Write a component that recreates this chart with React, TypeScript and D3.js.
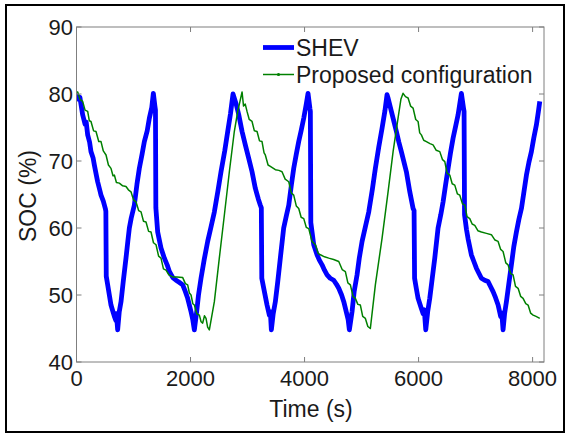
import React from "react";
import * as d3 from "d3";

const shevT = [0,40,60,108,150,170,196,230,254,290,313,350,371,410,430,470,506,515,522,547,580,605,640,664,690,700,722,750,781,820,868,900,927,960,1014,1060,1102,1150,1190,1240,1278,1320,1348,1375,1385,1392,1424,1482,1541,1590,1629,1690,1746,1800,1863,1910,1950,2009,2040,2067,2108,2140,2184,2240,2301,2360,2418,2480,2535,2600,2652,2700,2745,
2800,2846,2904,2961,3021,3079,3137,3190,3225,3242,3250,3284,3342,3383,3400,3418,3450,3488,3530,3575,3634,3680,3723,3770,3810,3855,3898,3940,3986,4030,4061,4095,4102,4110,4161,4219,4260,4307,4350,4395,4450,4512,4560,4600,4650,4688,4746,4765,4786,4833,4870,4921,4960,5009,5070,5126,5190,5242,5300,5360,5410,5447,
5465,5523,5570,5611,5655,5698,5745,5786,5846,5904,5921,5930,5960,5991,6049,6080,6100,6126,6160,6196,6240,6284,6342,6390,6430,6475,6518,6560,6605,6650,6693,6751,6790,6798,6806,6840,6868,6926,6970,7014,7060,7102,7160,7219,7260,7307,7350,7395,7440,7460,7482,7510,7541,7580,7628,7670,7716,7760,7804,7850,7892,7935,7979,8020,8067,8100,8126];
const shevSOC = [80,79.2,79.5,76.9,75.5,75.8,73.9,72.8,71.4,70.5,69.4,67.8,66.9,65.6,64.9,64,62.9,62.5,52.8,51.5,49.8,48.5,47.5,46.8,46.2,47.2,44.8,47.5,49,52,55.5,58,60,61.5,63.4,66.5,68.9,71,72.9,74.5,76.4,78,80.1,78.2,77.6,63,59.4,57,55.5,54.5,53.5,52.6,52.2,51.9,51.5,50.5,49.5,47.5,46.3,44.8,47.5,50,52.5,55.3,58,60.2,62.4,65.5,68.4,71.5,74.4,77,80,
78.5,76.9,74.4,72.4,70.4,68.4,65.9,64.3,63.4,63,52.5,51,48.5,47,47.5,44.8,47.2,49,52,55.5,60,61.8,63.4,66.5,68.9,71,72.9,74.5,76.4,78.5,80.1,77.8,77.4,60.8,57.5,56,55.2,54.5,53.7,53,52.5,52.2,51.6,51,50,49,47,46.3,44.8,47.5,50.5,53,55.5,58,60.3,62.4,65.8,68.9,72,74.9,77.5,79.9,
79.4,77.4,75.8,74.4,72.8,71.4,69.8,68.4,65.4,62.9,62.6,52.5,51,49.5,48,47.2,47.8,44.8,47.5,49.5,52.5,55.5,60,62,63.9,66.5,68.9,71.2,73.4,75.2,76.9,80.1,77.8,77.4,62,59.8,58.4,56,55,54,53.2,52.5,52.2,52,51.3,50.5,49.6,48.5,46.8,47.3,44.8,47.3,49,51.5,54.5,57.2,59.4,61.3,62.9,65.5,67.9,69.8,71.4,73.4,75.4,77.3,78.9];

const propT = [0,21,60,108,150,196,225,254,300,342,390,430,470,518,560,605,640,664,700,751,810,868,910,956,1000,1044,1090,1132,1175,1219,1265,1307,1350,1395,1440,1482,1525,1570,1620,1687,1760,1863,1910,1950,1980,2009,2040,2067,2110,2155,2185,2213,2245,2272,2300,2330,2418,2505,2593,2681,2768,2830,2870,2904,2930,2960,2991,3030,3079,3120,3167,3210,3254,3290,3312,3360,3400,3488,3550,3605,3660,3723,3770,3810,3855,3898,3940,3986,4030,4074,4130,4190,4240,4277,4350,4425,4510,4600,4660,4716,4760,4804,4850,4891,4935,4979,5020,5067,5110,5154,5242,5360,5465,5553,5640,5690,5728,5770,5816,5860,5904,5950,5991,6020,6049,6090,6137,6200,6254,6310,6372,6420,6460,6500,6547,6590,6635,6680,6723,6770,6811,6850,6898,6940,6986,7040,7102,7190,7277,7340,7395,7440,7482,7530,7570,7615,7658,7700,7746,7790,7833,7880,7921,7965,8009,8060,8126];
const propSOC = [80.3,80.3,79.2,78.9,77.6,77.4,76,75.9,74.5,74.4,72.9,72.9,71.5,70.9,69.4,68.9,67.8,67.9,66.8,66.7,66.3,66.2,65.7,65.4,64.2,63.9,62.6,62.4,61,60.9,59.5,59.4,57.8,57.5,55.8,55.5,53.9,53.7,53,52.7,52.7,52.6,51.7,51.5,50.3,50,48.7,48.5,47.2,47,46,45.8,46.9,46.5,45.2,44.8,49,55.5,61.9,68.4,74.4,77.5,79,80.3,78.2,78.5,77.4,76.2,75.9,74.5,74.4,73,72.9,71.2,70.9,69.4,69.2,68.7,68.6,68.4,67.3,66.9,65.2,64.9,63.3,62.9,61.6,61.4,60.1,59.9,58,57.5,56.2,56,55.7,55.5,55.3,55,53.8,53.5,51.8,51.5,49.8,49.5,48.6,48.5,46.8,46.5,45.3,45,51.5,58.5,65.4,71.4,76.4,79.2,80.1,79.6,79.4,78.2,77.9,76.2,75.9,74.2,73.9,73.1,72.9,72.6,72.4,71.6,71.4,70.2,69.9,68.2,67.9,66.6,66.4,65.1,64.9,63.6,63.4,61.7,61.4,60.6,60.4,59.6,59.4,59.2,59,58.2,58,56.8,56.5,54.8,54.5,53.2,53,51.3,51,49.8,49.5,48.7,48.5,47.3,47,46.8,46.5];

const xTicks = [0, 2000, 4000, 6000, 8000];
const yTicks = [40, 50, 60, 70, 80, 90];
const seriesNames = ["SHEV", "Proposed configuration"];

const W = 566, H = 434;
const L = 76.5, R = 544, T = 27, B = 362;
const FONT = "'Liberation Sans', Arial, sans-serif";

export default function App() {
  const x = d3.scaleLinear().domain([0, 8200]).range([L, R]);
  const y = d3.scaleLinear().domain([40, 90]).range([B, T]);
  const line = d3.line<[number, number]>().x(d => x(d[0])).y(d => y(d[1]));
  const shev: [number, number][] = shevT.map((t, i) => [t, shevSOC[i]]);
  const prop: [number, number][] = propT.map((t, i) => [t, propSOC[i]]);
  const axisColor = "#7f7f7f";
  const txt = "#1a1a1a";
  return (
    <svg width={W} height={H} style={{ position: "absolute", left: 0, top: 0, background: "#fff" }}>
      <rect x={0} y={0} width={W} height={H} fill="#fff" />
      <rect x={6} y={5} width={558} height={427} fill="none" stroke="#000" strokeWidth={2} />
      <defs>
        <clipPath id="plot"><rect x={L} y={T} width={R - L} height={B - T} /></clipPath>
      </defs>
      <g clipPath="url(#plot)">
        <path d={line(shev) || ""} fill="none" stroke="#0000ff" strokeWidth={4.8} strokeLinejoin="round" />
        <path d={line(prop) || ""} fill="none" stroke="#008000" strokeWidth={1.5} strokeLinejoin="round" />
      </g>
      <rect x={L} y={T} width={R - L} height={B - T} fill="none" stroke={axisColor} strokeWidth={1} />
      {xTicks.map(t => (
        <g key={"x" + t}>
          <line x1={x(t)} x2={x(t)} y1={B} y2={B - 5} stroke={axisColor} />
          <line x1={x(t)} x2={x(t)} y1={T} y2={T + 5} stroke={axisColor} />
          <text x={x(t)} y={386} textAnchor="middle" fontFamily={FONT} fontSize={22} fill={txt}>{t}</text>
        </g>
      ))}
      {yTicks.map(t => (
        <g key={"y" + t}>
          <line x1={L} x2={L + 5} y1={y(t)} y2={y(t)} stroke={axisColor} />
          <line x1={R} x2={R - 5} y1={y(t)} y2={y(t)} stroke={axisColor} />
          <text x={73} y={y(t) + 7.8} textAnchor="end" fontFamily={FONT} fontSize={22} fill={txt}>{t}</text>
        </g>
      ))}
      <text x={311} y={417} textAnchor="middle" fontFamily={FONT} fontSize={23} fill={txt}>Time (s)</text>
      <text transform={`translate(36,196) rotate(-90)`} textAnchor="middle" fontFamily={FONT} fontSize={23} fill={txt}>SOC (%)</text>
      <line x1={263} x2={294} y1={47.5} y2={47.5} stroke="#0000ff" strokeWidth={4.8} />
      <text x={296} y={55.5} fontFamily={FONT} fontSize={23} fill={txt}>{seriesNames[0]}</text>
      <line x1={263} x2={294} y1={74.5} y2={74.5} stroke="#008000" strokeWidth={1.5} />
      <circle cx={278.5} cy={74.5} r={1.6} fill="#008000" />
      <text x={296} y={83} fontFamily={FONT} fontSize={23} fill={txt}>{seriesNames[1]}</text>
    </svg>
  );
}
